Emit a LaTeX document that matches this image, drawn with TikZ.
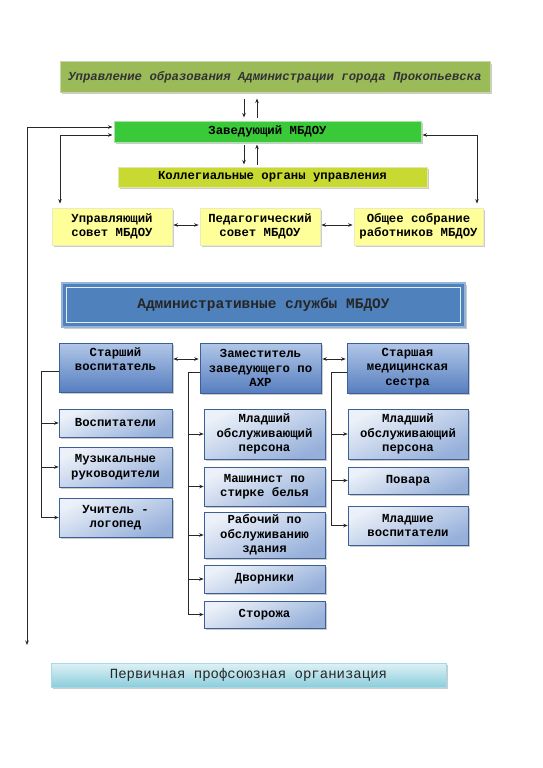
\documentclass[tikz,border=0pt]{standalone}
\usepackage{fontspec}
\setmainfont{Liberation Mono}
\usetikzlibrary{shadows,arrows.meta,calc}
\definecolor{olivebox}{RGB}{155,187,89}
\definecolor{olivebd}{RGB}{200,215,170}
\definecolor{greenbox}{RGB}{57,201,57}
\definecolor{greenbd}{RGB}{170,225,170}
\definecolor{limebox}{RGB}{200,218,50}
\definecolor{limebd}{RGB}{225,232,170}
\definecolor{yelbox}{RGB}{255,255,153}
\definecolor{yelbd}{RGB}{235,235,190}
\definecolor{admfill}{RGB}{79,129,189}
\definecolor{admbd}{RGB}{150,180,215}
\definecolor{bh1}{RGB}{178,199,232}
\definecolor{bh2}{RGB}{86,126,191}
\definecolor{bs1}{RGB}{236,241,249}
\definecolor{bs2}{RGB}{150,176,218}
\definecolor{bluebd}{RGB}{60,95,150}
\definecolor{per1}{RGB}{222,242,246}
\definecolor{per2}{RGB}{140,205,220}
\definecolor{perbd}{RGB}{170,215,228}
\definecolor{lnc}{RGB}{40,40,40}
\begin{document}
\begin{tikzpicture}[x=1pt,y=-1pt,
  box/.style={rectangle, inner sep=1pt, align=center,
    font=\bfseries\fontsize{12.3}{14.5}\selectfont,
    drop shadow={shadow xshift=2pt, shadow yshift=-2pt, fill=black!40, opacity=0.5}},
  topbox/.style={box, fill=olivebox, draw=olivebd, line width=1pt,
    font=\bfseries\itshape\fontsize{12.3}{14.5}\selectfont, text=black!80},
  zavbox/.style={box, fill=greenbox, draw=greenbd, line width=1pt},
  kolbox/.style={box, fill=limebox, draw=limebd, line width=1pt},
  yelbox/.style={box, fill=yelbox, draw=yelbd, line width=0.8pt},
  bluehead/.style={box, draw=bluebd, line width=0.6pt, top color=bh1, bottom color=bh2},
  bluesub/.style={box, draw=bluebd, line width=0.6pt, top color=bs1, bottom color=bs2, shading angle=25},
  conn/.style={draw=lnc, line width=0.7pt},
  tip/.tip={Stealth[length=4.5pt,width=3.5pt]},
  arr/.style={conn, -tip},
  darr/.style={conn, tip-tip}
]
\useasboundingbox[fill=white] (0,0) rectangle (543,768);

% top part
\node[topbox, minimum width=430, minimum height=30] (top) at (275,77)
  {Управление образования Администрации города Прокопьевска};
\node[zavbox, minimum width=307, minimum height=21] (zav) at (267.5,131.5) {Заведующий МБДОУ};
\node[kolbox, minimum width=309, minimum height=20] (kol) at (272.5,177) {Коллегиальные органы управления};
\node[yelbox, minimum width=120, minimum height=37] (upr) at (112,226.5) {Управляющий\\совет МБДОУ};
\node[yelbox, minimum width=120, minimum height=37] (ped) at (260,226.5) {Педагогический\\совет МБДОУ};
\node[yelbox, minimum width=129, minimum height=37] (obs) at (418.5,226.5) {Общее собрание\\работников МБДОУ};

\coordinate (ax) at (244,0);
\coordinate (bx) at (257,0);
\draw[arr, shorten <=6pt, shorten >=3pt] (top.south -| ax) -- (zav.north -| ax);
\draw[arr, shorten <=3pt, shorten >=6pt] (zav.north -| bx) -- (top.south -| bx);
\draw[arr, shorten <=2pt, shorten >=2pt] (zav.south -| ax) -- (kol.north -| ax);
\draw[arr, shorten <=2pt, shorten >=2pt] (kol.north -| bx) -- (zav.south -| bx);

\coordinate (lx) at (27,645);
\coordinate (ux) at (60,0);
\coordinate (rx) at (477,0);
\draw[darr, shorten >=1pt] (lx) |- ([yshift=4.5pt]zav.west);
\draw[darr, shorten <=4pt, shorten >=1pt] (upr.north -| ux) |- ([yshift=-3.5pt]zav.west);
\draw[darr, shorten <=1pt, shorten >=4pt] ([yshift=-3.5pt]zav.east) -| (obs.north -| rx);
\draw[darr, shorten <=1pt, shorten >=1pt] ([yshift=1.5pt]upr.east) -- ([yshift=1.5pt]ped.west);
\draw[darr, shorten <=1pt, shorten >=1pt] ([yshift=1.5pt]ped.east) -- ([yshift=1.5pt]obs.west);

% administrative services
\node[box, fill=admfill, draw=admbd, line width=1.2pt, minimum width=403, minimum height=44,
  font=\bfseries\fontsize{14.5}{16}\selectfont, text=black!85] (adm) at (263.5,305) {Административные службы МБДОУ};
\draw[white!85!admfill, line width=1pt] ([shift={(5pt,-5pt)}]adm.north west) rectangle ([shift={(-5pt,5pt)}]adm.south east);

\node[bluehead, minimum width=113, minimum height=49] (sv) at (115.5,367.5) {Старший\\воспитатель\\[-2pt]\strut};
\node[bluehead, minimum width=121, minimum height=50] (zam) at (260.5,368) {Заместитель\\заведующего по\\АХР};
\node[bluehead, minimum width=121, minimum height=50] (ses) at (407.5,368) {Старшая\\медицинская\\сестра};
\draw[darr, shorten <=1pt, shorten >=1pt] ([yshift=8.5pt]sv.east) -- ([yshift=8.5pt]sv.east -| zam.west);
\draw[darr, shorten <=1pt, shorten >=1pt] ([yshift=9pt]zam.east) -- ([yshift=9pt]zam.east -| ses.west);

% left column
\node[bluesub, minimum width=113, minimum height=28] (vos) at (115.5,423) {Воспитатели};
\node[bluesub, minimum width=113, minimum height=40] (muz) at (115.5,467) {Музыкальные\\руководители};
\node[bluesub, minimum width=113, minimum height=39] (log) at (115.5,517.5) {Учитель -\\логопед};
\coordinate (c1) at (41,0);
\draw[conn] ([yshift=-3.5pt]sv.west) -| (c1 |- log.west);
\draw[arr] (c1 |- vos.west) -- (vos.west);
\draw[arr] (c1 |- muz.west) -- (muz.west);
\draw[arr] (c1 |- log.west) -- (log.west);

% middle column
\node[bluesub, minimum width=121, minimum height=50] (mo1) at (264.5,434) {Младший\\обслуживающий\\персона};
\node[bluesub, minimum width=121, minimum height=39] (mas) at (264.5,486.5) {Машинист по\\стирке белья};
\node[bluesub, minimum width=121, minimum height=46] (rab) at (264.5,535) {Рабочий по\\обслуживанию\\здания};
\node[bluesub, minimum width=121, minimum height=28] (dvo) at (264.5,579) {Дворники};
\node[bluesub, minimum width=121, minimum height=27] (sto) at (264.5,614.5) {Сторожа};
\coordinate (c2) at (188,0);
\draw[conn] ([yshift=-4pt]zam.west) -| (c2 |- sto.west);
\draw[arr] (c2 |- mo1.west) -- (mo1.west);
\draw[arr] (c2 |- mas.west) -- (mas.west);
\draw[arr] (c2 |- rab.west) -- (rab.west);
\draw[arr] (c2 |- dvo.west) -- (dvo.west);
\draw[arr] (c2 |- sto.west) -- (sto.west);

% right column
\node[bluesub, minimum width=120, minimum height=50] (mo2) at (408,434) {Младший\\обслуживающий\\персона};
\node[bluesub, minimum width=120, minimum height=27] (pov) at (408,480.5) {Повара};
\node[bluesub, minimum width=120, minimum height=39] (mlv) at (408,525.5) {Младшие\\воспитатели};
\coordinate (c3) at (331,0);
\draw[conn] ([yshift=-4pt]ses.west) -| (c3 |- mlv.west);
\draw[arr] (c3 |- mo2.west) -- (mo2.west);
\draw[arr] (c3 |- pov.west) -- (pov.west);
\draw[arr] (c3 |- mlv.west) -- (mlv.west);

% bottom
\node[box, draw=perbd, line width=0.8pt, top color=per1, bottom color=per2, minimum width=395, minimum height=24,
  font=\fontsize{14}{16}\selectfont, text=black!85] (per) at (248.5,675) {Первичная профсоюзная организация};
\end{tikzpicture}
\end{document}
